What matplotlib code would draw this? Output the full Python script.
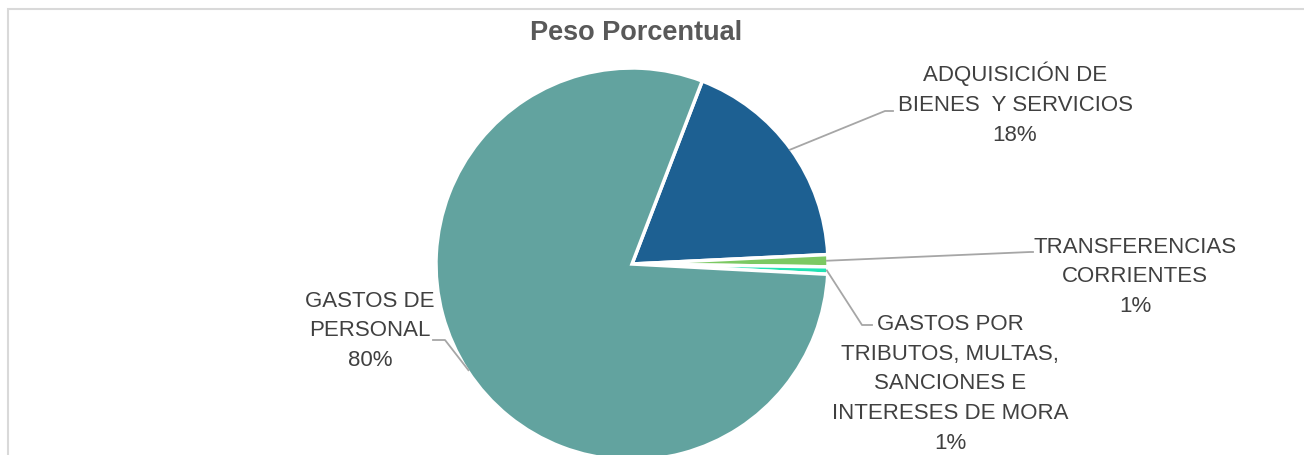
import numpy as np
import matplotlib.pyplot as plt
from matplotlib.patches import Rectangle

# data
labels = ['ADQUISICIÓN DE\nBIENES  Y SERVICIOS',
          'TRANSFERENCIAS\nCORRIENTES',
          'GASTOS POR\nTRIBUTOS, MULTAS,\nSANCIONES E\nINTERESES DE MORA',
          'GASTOS DE\nPERSONAL']
values = [18.4, 1.0, 0.6, 80.0]
colors = ['#1D6092', '#7CC963', '#22E3B4', '#62A39F']

W, H = 1304, 456
CX, CY, R = 632, 265, 196   # pie centre / radius in pixels


def px(x, y):
    # pixel position (from top-left) -> data units of the pie axes
    return (x - CX) / R, (CY - y) / R


fonts = ['Liberation Sans Narrow', 'Liberation Sans', 'DejaVu Sans']
txtcol = '#404040'
linecol = '#A6A6A6'

fig = plt.figure(figsize=(W / 100, H / 100), dpi=100)
ax = fig.add_axes([0, 0, 1, 1])

wedges, _ = ax.pie(values, colors=colors, startangle=69, counterclock=False,
                   radius=1.0, wedgeprops=dict(edgecolor='white', linewidth=2.5))
ax.set_xlim(-CX / R, (W - CX) / R)
ax.set_ylim(-(H - CY) / R, CY / R)
ax.set_aspect('auto')
ax.axis('off')

# label centre, elbow and end of leader line (pixels)
label_pos = [(1015, 104), (1135, 277), (950, 384), (370, 331)]
elbows = [(885, 112), (1030, 253), (862, 326), (445, 341)]
ends = [(893, 112), (1033, 253), (872, 326), (433, 341)]

total = sum(values)
for w, lab, v, lp, el, en in zip(wedges, labels, values, label_pos, elbows, ends):
    ang = np.deg2rad((w.theta1 + w.theta2) / 2)
    x0, y0 = np.cos(ang) * 0.995, np.sin(ang) * 0.995
    ex, ey = px(*el)
    nx, ny = px(*en)
    ax.plot([x0, ex, nx], [y0, ey, ny], color=linecol, lw=1.3, zorder=1)
    tx, ty = px(*lp)
    ax.text(tx, ty, f'{lab}\n{v / total * 100:.0f}%', ha='center', va='center',
            fontsize=16, color=txtcol, family=fonts, linespacing=1.55)

fig.text(636 / W, 1 - 33 / H, 'Peso Porcentual', ha='center', va='center',
         fontsize=19.5, fontweight='bold', color='#595959', family=fonts)

# chart border
fig.add_artist(Rectangle((8 / W, -0.1), 1.0, 1 - 10 / H + 0.1, transform=fig.transFigure,
                         fill=False, edgecolor='#D9D9D9', lw=1.5))

fig.savefig('out.png', dpi=100)
